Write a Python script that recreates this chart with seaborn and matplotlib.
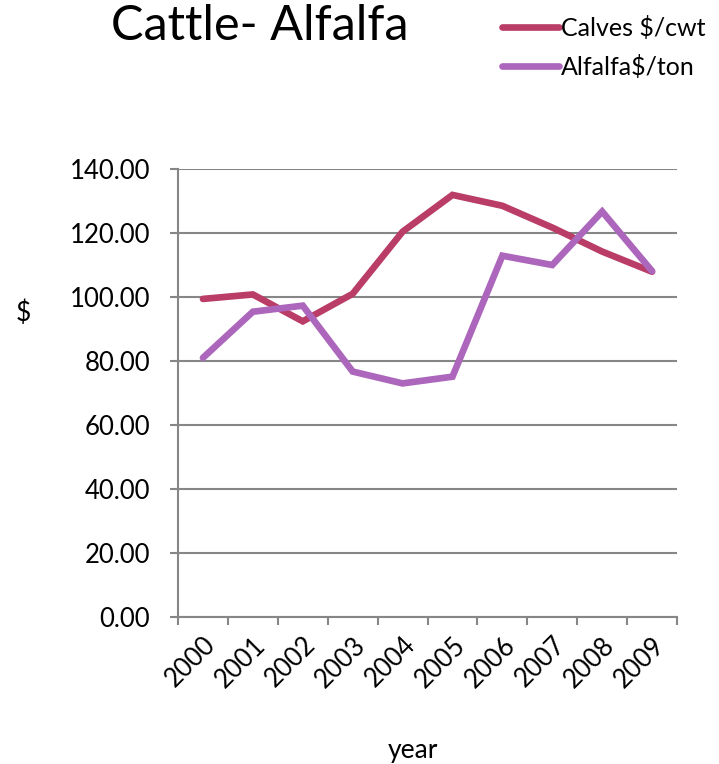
import matplotlib
matplotlib.use("Agg")
import matplotlib.pyplot as plt
import seaborn as sns
import pandas as pd
import numpy as np
from matplotlib.ticker import FixedLocator, FormatStrFormatter
from matplotlib.lines import Line2D

years = ["2000", "2001", "2002", "2003", "2004", "2005", "2006", "2007", "2008", "2009"]
calves = [99.4, 100.8, 92.4, 101.0, 120.4, 131.9, 128.5, 121.7, 114.2, 107.9]
alfalfa = [81.0, 95.4, 97.3, 76.7, 73.0, 75.1, 112.9, 110.0, 126.7, 108.1]
series_names = ["Calves $/cwt", "Alfalfa$/ton"]
colors = ["#BA3D68", "#AC66BC"]

df = pd.DataFrame({
    "pos": list(range(len(years))) * 2,
    "value": calves + alfalfa,
    "series": [series_names[0]] * len(years) + [series_names[1]] * len(years),
})

sns.set_theme(style="white")
plt.rcParams["font.family"] = ["Lato", "DejaVu Sans"]
plt.rcParams["text.color"] = "black"
plt.rcParams["axes.labelcolor"] = "black"

fig = plt.figure(figsize=(7.19, 7.64), dpi=100)
ax = fig.add_axes([0.2476, 0.1924, 0.9416 - 0.2476, 0.7788 - 0.1924])

lw = 4.8
sns.lineplot(data=df, x="pos", y="value", hue="series", palette=colors,
             linewidth=lw, ax=ax, legend=False, solid_capstyle="round",
             solid_joinstyle="miter")

grid_c = "#868686"
tick_fs = 18.5
ax.set_ylim(0, 140)
ax.set_xlim(-0.5, len(years) - 0.5)
ax.set_yticks(np.arange(0, 141, 20))
ax.yaxis.set_major_formatter(FormatStrFormatter("%.2f"))
ax.yaxis.grid(True, color=grid_c, linewidth=1.5)
ax.set_axisbelow(True)
ax.set_xticks(range(len(years)))
ax.set_xticklabels(years, rotation=45, ha="right", rotation_mode="anchor")
ax.xaxis.set_minor_locator(FixedLocator(np.arange(-0.5, len(years), 1.0)))
ax.tick_params(axis="x", which="major", length=0, pad=11, labelsize=tick_fs, labelcolor="black")
ax.tick_params(axis="x", which="minor", length=6, width=1.5, color=grid_c, bottom=True)
ax.tick_params(axis="y", which="major", length=6, width=1.5, color=grid_c, left=True,
               labelsize=tick_fs, pad=14, labelcolor="black")

for side in ["top", "right"]:
    ax.spines[side].set_visible(False)
for side in ["left", "bottom"]:
    ax.spines[side].set_color(grid_c)
    ax.spines[side].set_linewidth(1.5)

ax.set_xlabel("year", fontsize=19)
ax.xaxis.set_label_coords(0.47, -0.27)
ax.set_ylabel("$", fontsize=19, rotation=0)
ax.yaxis.set_label_coords(-0.31, 0.65)

fig.text(0.155, 0.995, "Cattle- Alfalfa", fontsize=35, va="top", ha="left", color="black")

handles = [Line2D([0], [0], color=c, linewidth=lw) for c in colors]
fig.legend(handles, series_names, loc="upper left", bbox_to_anchor=(0.67, 1.005),
           frameon=False, fontsize=18, handlelength=2.3, handletextpad=0.08,
           labelspacing=0.6, borderpad=0.3)

fig.savefig("out.png", dpi=100)
